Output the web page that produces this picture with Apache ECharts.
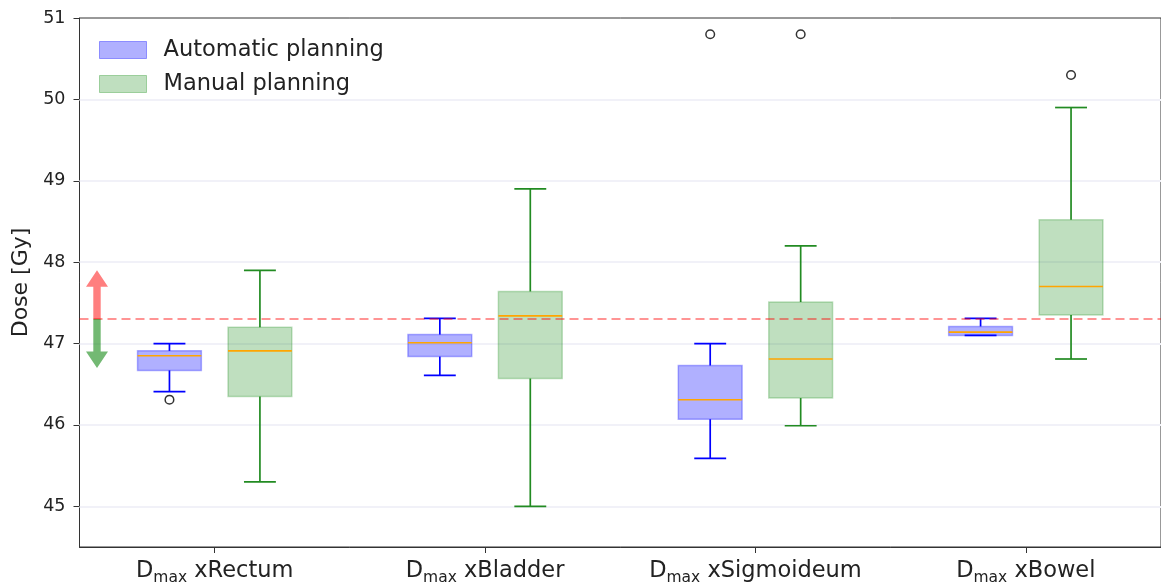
<!DOCTYPE html>
<html>
<head>
<meta charset="utf-8">
<script src="https://cdn.jsdelivr.net/npm/echarts@6/dist/echarts.min.js"></script>
<style>
html,body{margin:0;padding:0;background:#fff;}
#chart{width:1161px;height:586px;}
</style>
</head>
<body>
<div id="chart"></div>
<script>
// ---- data ----
const categories = ['xRectum', 'xBladder', 'xSigmoideum', 'xBowel'];
const catPositions = [1, 2, 3, 4];

const autoLow  = [46.41, 46.61, 45.59, 47.10];
const autoQ1   = [46.67, 46.84, 46.07, 47.10];
const autoMed  = [46.85, 47.01, 46.31, 47.14];
const autoQ3   = [46.91, 47.11, 46.73, 47.21];
const autoHigh = [47.00, 47.31, 47.00, 47.31];

const manLow  = [45.30, 45.00, 45.99, 46.81];
const manQ1   = [46.35, 46.57, 46.33, 47.35];
const manMed  = [46.91, 47.34, 46.81, 47.70];
const manQ3   = [47.20, 47.64, 47.51, 48.52];
const manHigh = [47.90, 48.90, 48.20, 49.90];

// [category index, value]
const autoOutliers = [[0, 46.31], [2, 50.80]];
const manOutliers  = [[2, 50.80], [3, 50.30]];

const yTicks = [45, 46, 47, 48, 49, 50, 51];
const threshold = 47.3;
const arrowUpTo = 47.9;
const arrowDownTo = 46.7;

// ---- layout / style ----
const X_MIN = 0.5, X_MAX = 4.5;
const OFFSET = 0.1673;
const BOX_W = 0.236;

const AUTO_FILL = 'rgba(0,0,255,0.31)';
const AUTO_EDGE = 'rgba(0,0,255,0.30)';
const AUTO_LINE = '#0000ff';
const MAN_FILL = 'rgba(0,128,0,0.25)';
const MAN_EDGE = 'rgba(0,128,0,0.24)';
const MAN_LINE = '#228b22';
const MEDIAN = '#ffa500';

function boxSeries(name, low, q1, med, q3, high, offset, fill, edge, line) {
  return {
    type: 'custom',
    name: name,
    z: 3,
    itemStyle: { color: fill },
    data: catPositions.map((p, i) => [p, low[i], q1[i], med[i], q3[i], high[i]]),
    encode: { x: 0, y: [1, 2, 3, 4, 5] },
    renderItem: function (params, api) {
      const x = api.value(0) + offset;
      const half = api.size([BOX_W, 0])[0] / 2;
      const capHalf = half / 2;
      const cx = api.coord([x, api.value(1)])[0];
      const yLow = api.coord([x, api.value(1)])[1];
      const yQ1 = api.coord([x, api.value(2)])[1];
      const yMed = api.coord([x, api.value(3)])[1];
      const yQ3 = api.coord([x, api.value(4)])[1];
      const yHigh = api.coord([x, api.value(5)])[1];
      const ls = { stroke: line, lineWidth: 1.7 };
      return {
        type: 'group',
        children: [
          { type: 'line', shape: { x1: cx, y1: yQ3, x2: cx, y2: yHigh }, style: ls },
          { type: 'line', shape: { x1: cx, y1: yQ1, x2: cx, y2: yLow }, style: ls },
          { type: 'line', shape: { x1: cx - capHalf, y1: yHigh, x2: cx + capHalf, y2: yHigh }, style: ls },
          { type: 'line', shape: { x1: cx - capHalf, y1: yLow, x2: cx + capHalf, y2: yLow }, style: ls },
          { type: 'rect', shape: { x: cx - half, y: yQ3, width: 2 * half, height: Math.max(yQ1 - yQ3, 1) },
            style: { fill: fill, stroke: edge, lineWidth: 1.5 } },
          { type: 'line', shape: { x1: cx - half, y1: yMed, x2: cx + half, y2: yMed },
            style: { stroke: MEDIAN, lineWidth: 1.6 } }
        ]
      };
    }
  };
}

function outlierSeries(name, pts, offset) {
  return {
    type: 'custom',
    name: name,
    z: 4,
    data: pts.map(p => [catPositions[p[0]], p[1]]),
    encode: { x: 0, y: 1 },
    renderItem: function (params, api) {
      const c = api.coord([api.value(0) + offset, api.value(1)]);
      return { type: 'circle', shape: { cx: c[0], cy: c[1], r: 4.3 },
               style: { fill: 'none', stroke: '#333', lineWidth: 1.5 } };
    }
  };
}

const arrowSeries = {
  type: 'custom',
  name: 'arrows',
  z: 6,
  data: [[X_MIN, threshold, arrowUpTo, arrowDownTo]],
  encode: { x: 0, y: [1, 2, 3] },
  renderItem: function (params, api) {
    const base = api.coord([api.value(0), api.value(1)]);
    const cx = base[0] + 17.5;
    const yb = base[1];
    const yUp = api.coord([api.value(0), api.value(2)])[1];
    const yDn = api.coord([api.value(0), api.value(3)])[1];
    const sw = 3.7, hw = 11, hl = 16.5;
    const up = [[cx - sw, yb], [cx - sw, yUp + hl], [cx - hw, yUp + hl], [cx, yUp],
                [cx + hw, yUp + hl], [cx + sw, yUp + hl], [cx + sw, yb]];
    const dn = [[cx - sw, yb], [cx - sw, yDn - hl], [cx - hw, yDn - hl], [cx, yDn],
                [cx + hw, yDn - hl], [cx + sw, yDn - hl], [cx + sw, yb]];
    return { type: 'group', children: [
      { type: 'polygon', shape: { points: up }, style: { fill: 'rgba(255,0,0,0.5)' } },
      { type: 'polygon', shape: { points: dn }, style: { fill: 'rgba(0,128,0,0.55)' } }
    ] };
  }
};

const gridLineSeries = {
  type: 'line',
  name: 'gridlines',
  data: [],
  z: 1,
  silent: true,
  markLine: {
    silent: true,
    symbol: 'none',
    z: 1,
    label: { show: false },
    lineStyle: { color: '#f1f1f8', width: 2, type: 'solid' },
    data: yTicks.filter(v => v < 51).map(v => ({ yAxis: v }))
  }
};

const thresholdSeries = {
  type: 'line',
  name: 'threshold',
  data: [],
  z: 5,
  silent: true,
  markLine: {
    silent: true,
    symbol: 'none',
    label: { show: false },
    z: 5,
    lineStyle: { color: 'rgba(255,0,0,0.42)', width: 2.2, type: [9, 5] },
    data: [{ yAxis: threshold }]
  }
};

const chart = echarts.init(document.getElementById('chart'), null, { renderer: 'canvas' });
chart.setOption({
  animation: false,
  backgroundColor: '#ffffff',
  textStyle: { fontFamily: 'DejaVu Sans' },
  grid: {
    left: 79.5, top: 18, width: 1086, height: 529,
    show: true, borderColor: '#333', borderWidth: 1, backgroundColor: 'transparent'
  },
  legend: {
    orient: 'vertical',
    left: 99, top: 38.5,
    padding: 0,
    itemWidth: 47, itemHeight: 17, itemGap: 11,
    icon: 'rect',
    textStyle: { fontSize: 22.5, lineHeight: 20, color: '#222', fontFamily: 'DejaVu Sans', padding: [0, 0, 0, 12] },
    data: [
      { name: 'Automatic planning', itemStyle: { color: AUTO_FILL, borderColor: 'rgba(0,0,255,0.35)', borderWidth: 1 } },
      { name: 'Manual planning', itemStyle: { color: MAN_FILL, borderColor: 'rgba(0,128,0,0.3)', borderWidth: 1 } }
    ]
  },
  xAxis: {
    type: 'value',
    min: X_MIN, max: X_MAX,
    axisLine: { show: true, lineStyle: { color: '#333', width: 1 } },
    splitLine: { show: false },
    axisTick: { show: true, length: 6, customValues: catPositions, lineStyle: { color: '#333' } },
    axisLabel: {
      customValues: catPositions,
      margin: 13,
      color: '#222',
      formatter: function (v) {
        const i = catPositions.indexOf(v);
        return '{d|D}{s|max}{n| ' + categories[i] + '}';
      },
      rich: {
        d: { fontSize: 22.5, color: '#222', fontFamily: 'DejaVu Sans', verticalAlign: 'bottom', padding: [0, 0, 3, 0] },
        s: { fontSize: 15.5, color: '#222', fontFamily: 'DejaVu Sans', verticalAlign: 'bottom' },
        n: { fontSize: 22.5, color: '#222', fontFamily: 'DejaVu Sans', verticalAlign: 'bottom', padding: [0, 0, 3, 0] }
      }
    }
  },
  yAxis: {
    type: 'value',
    min: 44.5, max: 51,
    name: 'Dose [Gy]',
    nameLocation: 'middle',
    nameGap: 46,
    nameTextStyle: { fontSize: 22, color: '#222', fontFamily: 'DejaVu Sans' },
    axisLine: { show: true, lineStyle: { color: '#333', width: 1 } },
    splitLine: { show: false },
    axisTick: { show: true, length: 6, customValues: yTicks, lineStyle: { color: '#333' } },
    axisLabel: {
      customValues: yTicks,
      margin: 14,
      fontSize: 17.5,
      color: '#222',
      fontFamily: 'DejaVu Sans',
      formatter: v => String(v)
    }
  },
  series: [
    gridLineSeries,
    boxSeries('Automatic planning', autoLow, autoQ1, autoMed, autoQ3, autoHigh, -OFFSET, AUTO_FILL, AUTO_EDGE, AUTO_LINE),
    boxSeries('Manual planning', manLow, manQ1, manMed, manQ3, manHigh, OFFSET, MAN_FILL, MAN_EDGE, MAN_LINE),
    outlierSeries('auto outliers', autoOutliers, -OFFSET),
    outlierSeries('manual outliers', manOutliers, OFFSET),
    thresholdSeries,
    arrowSeries
  ]
});
</script>
</body>
</html>
